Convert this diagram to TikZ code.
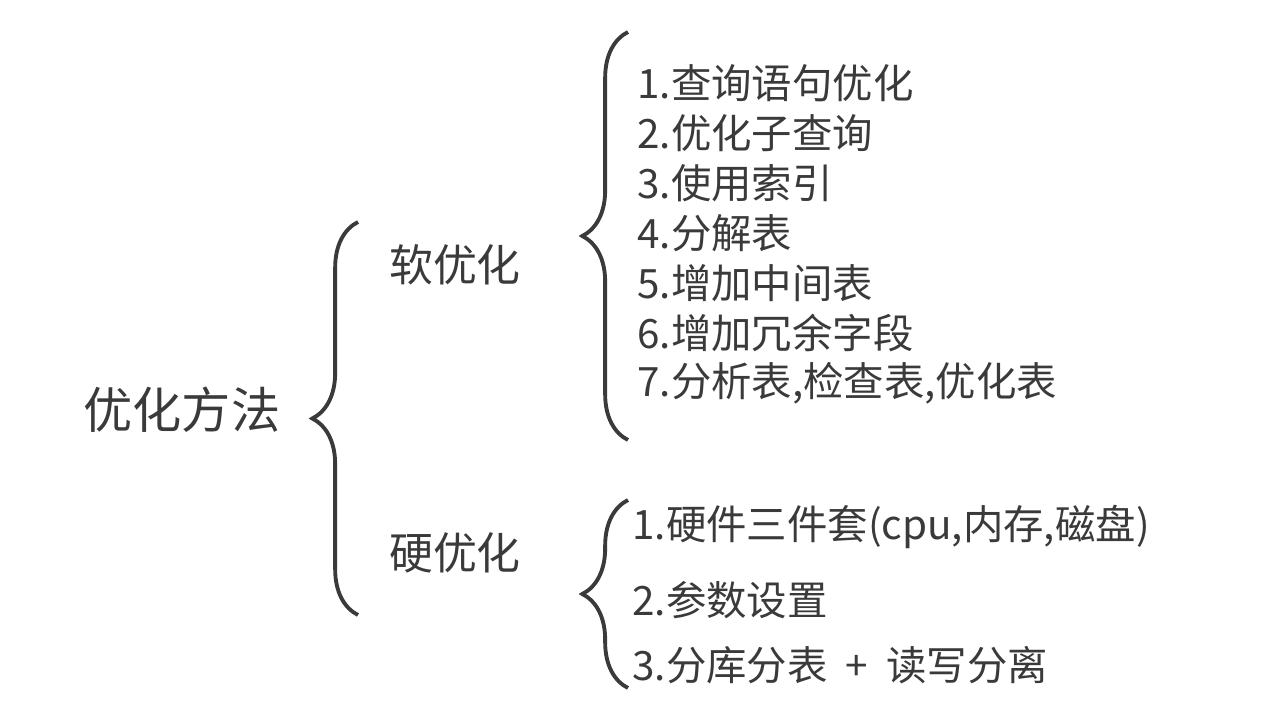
\documentclass[tikz,border=0pt]{standalone}
\usepackage{fontspec}
\setmainfont{Noto Sans CJK SC}
\usetikzlibrary{decorations.pathreplacing}
\definecolor{ink}{HTML}{3A3A3A}
\tikzset{
  brc/.style={decorate, decoration={brace, amplitude=#1}, line width=2.2pt, ink},
  item/.style={anchor=west, inner sep=0pt, text=ink, font=\fontsize{23}{23}\selectfont},
  mid/.style={inner sep=0pt, text=ink, font=\fontsize{25}{25}\selectfont}
}
\begin{document}
\begin{tikzpicture}[x=0.02cm, y=-0.02cm]
    \useasboundingbox (0,0) rectangle (1279,714);
    %根
    \node[mid, font=\fontsize{28}{28}\selectfont] (root) at (182,410) {优化方法};
    \draw[brc=26pt] (358,615) -- (358,222);
    %软优化
    \node[mid] (soft) at (455,265) {软优化};
    \draw[brc=26pt] (628,440) -- (628,32);
    \foreach \t [count=\i] in {查询语句优化, 优化子查询, 使用索引, 分解表, 增加中间表, 增加冗余字段, {分析表,检查表,优化表}}
        \node[item] (s\i) at (637,{83+50*(\i-1)}) {\i.\t};
    %硬优化
    \node[mid] (hard) at (455,553) {硬优化};
    \draw[brc=26pt] (628,688) -- (628,500);
    \node[item] (h1) at (632,527) {1.硬件三件套(cpu,内存,磁盘)};
    \node[item] (h2) at (632,600) {2.参数设置};
    \node[item] (h3) at (632,665) {3.分库分表\ \ +\ \ 读写分离};
\end{tikzpicture}
\end{document}
